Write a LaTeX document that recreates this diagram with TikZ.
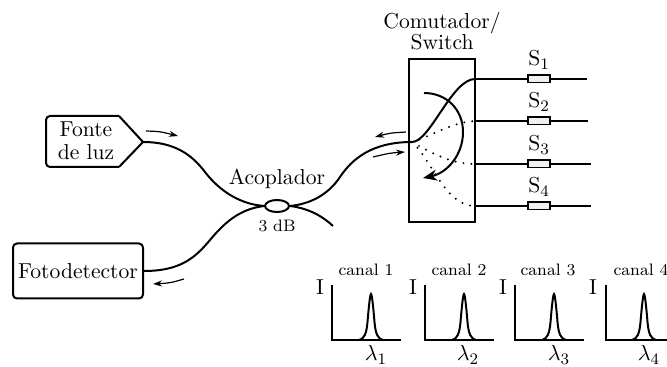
\documentclass[tikz,border=0pt]{standalone}
\usepackage{amsmath}
\usetikzlibrary{arrows.meta,shapes.geometric}
\tikzset{
  fiber/.style={line width=1pt},
  devbox/.style={draw,line width=1pt,rounded corners=2pt},
  txt/.style={font=\fontsize{10.8}{12.8}\selectfont,align=center,inner sep=0pt},
  smalltxt/.style={font=\fontsize{8.3}{10}\selectfont,inner sep=0pt},
  dotfiber/.style={line width=1.1pt,line cap=round,dash pattern=on 0pt off 4pt},
  flow/.style={line width=0.6pt,-{Stealth[length=4.5pt,width=3pt]}},
  filterbox/.style={draw,fill=black!6,line width=0.9pt,minimum width=11pt,minimum height=3.6pt,inner sep=0pt},
  axes/.style={line width=0.9pt},
  peak/.style={line width=1pt}
}

\begin{document}
\begin{tikzpicture}[x=0.5pt,y=-0.5pt]
\useasboundingbox (0,0) rectangle (667,367);

% source and detector
\draw[fiber,rounded corners=2pt] (119,116) -- (46,116) -- (46,167) -- (119,167);
\draw[fiber] (119,116) -- (143,142) -- (119,167);
\coordinate (fonte) at (143,142);
\node[txt] (fontetext) at (86,141) {Fonte\\[-1.5pt]de luz};
\node[devbox,minimum width=65pt,minimum height=27.5pt,inner sep=0pt,txt] (foto) at (78,271) {Fotodetector};

% coupler
\node[draw,ellipse,line width=1pt,minimum width=12pt,minimum height=6pt,inner sep=0pt] (coupler) at (277,206) {};
\node[txt] (acoplador) at (277,179) {Acoplador};
\node[smalltxt] (db) at (277,226) {3 dB};
\coordinate (tail) at (333,226);

% switch
\node[draw,line width=1pt,minimum width=33pt,minimum height=81.5pt,inner sep=0pt] (switch) at (442,140.5) {};
\node[txt] (switchtext) at (442,31) {Comutador/\\[-2pt]Switch};
\coordinate (common) at (412,142);
\coordinate (port1) at (475,79);
\coordinate (port2) at (475,121);
\coordinate (port3) at (475,164);
\coordinate (port4) at (475,206);

\draw[fiber] (fonte) .. controls (175,142) and (192,155) .. (205,172) .. controls (218,189) and (238,204) .. (coupler.west);
\draw[fiber] (foto.east) .. controls (180,271) and (195,258) .. (210,240) .. controls (225,222) and (240,209) .. (coupler.west);
\draw[fiber] (coupler.east) .. controls (310,204) and (328,195) .. (340,177) .. controls (352,159) and (372,142) .. (common);
\draw[fiber] (coupler.east) .. controls (306,208) and (320,214) .. (tail);

\draw[fiber] (common) .. controls (430,142) and (452,79) .. (port1);
\draw[dotfiber] (common) .. controls (432,136) and (452,122) .. (port2);
\draw[dotfiber] (common) .. controls (430,152) and (450,164) .. (port3);
\draw[dotfiber] (common) .. controls (432,160) and (445,206) .. (port4);

\coordinate (swstart) at (424,93);
\coordinate (swmid) at (463,132);
\coordinate (swend) at (423,178);
\draw[line width=1pt,-{Stealth[length=7pt,width=5.5pt]}] (swstart) .. controls (447,93) and (463,110) .. (swmid) .. controls (463,155) and (447,173) .. (swend);

% outputs
\node[filterbox] (s1) at (539,79) {};
\node[filterbox] (s2) at (539,121) {};
\node[filterbox] (s3) at (539,164) {};
\node[filterbox] (s4) at (539,206) {};
\coordinate (end1) at (587,79);
\coordinate (end2) at (588,121);
\coordinate (end3) at (591,164);
\coordinate (end4) at (591,206);
\draw[fiber] (port1) -- (s1.west);
\draw[fiber] (port2) -- (s2.west);
\draw[fiber] (port3) -- (s3.west);
\draw[fiber] (port4) -- (s4.west);
\draw[fiber] (s1.east) -- (end1);
\draw[fiber] (s2.east) -- (end2);
\draw[fiber] (s3.east) -- (end3);
\draw[fiber] (s4.east) -- (end4);
\node[txt] (s1text) at (539,60) {S$_1$};
\node[txt] (s2text) at (539,102) {S$_2$};
\node[txt] (s3text) at (539,145) {S$_3$};
\node[txt] (s4text) at (539,187) {S$_4$};

% direction of travel
\coordinate (a1) at (146,131);
\coordinate (b1) at (178,136);
\coordinate (a2) at (184,279);
\coordinate (b2) at (153,284);
\coordinate (a3) at (406,132);
\coordinate (b3) at (375,137);
\coordinate (a4) at (373,157);
\coordinate (b4) at (405,152);
\draw[flow] (a1) .. controls (160,131.5) .. (b1);
\draw[flow] (a2) .. controls (170,283) .. (b2);
\draw[flow] (a3) .. controls (390,133) .. (b3);
\draw[flow] (a4) .. controls (390,153) .. (b4);

% spectra
\draw[axes] (332,285) -- (332,340) -- (401,340);
\draw[peak] (359,340) .. controls (364,339) and (366.5,334) .. (367.5,322) .. controls (368.5,310) and (370,294) .. (371,294) .. controls (372,294) and (373.5,310) .. (374.5,322) .. controls (375.5,334) and (378,339) .. (383,340);
\node[smalltxt] (canal1) at (366,270) {canal 1};
\node[txt] (i1) at (320,287) {I};
\node[txt] (l1) at (376,355) {$\lambda_1$};

\draw[axes] (425,285) -- (425,340) -- (494,340);
\draw[peak] (452,340) .. controls (457,339) and (459.5,334) .. (460.5,322) .. controls (461.5,310) and (463,294) .. (464,294) .. controls (465,294) and (466.5,310) .. (467.5,322) .. controls (468.5,334) and (471,339) .. (476,340);
\node[smalltxt] (canal2) at (459,270) {canal 2};
\node[txt] (i2) at (413,287) {I};
\node[txt] (l2) at (468,355) {$\lambda_2$};

\draw[axes] (515,285) -- (515,340) -- (584,340);
\draw[peak] (542,340) .. controls (547,339) and (549.5,334) .. (550.5,322) .. controls (551.5,310) and (553,294) .. (554,294) .. controls (555,294) and (556.5,310) .. (557.5,322) .. controls (558.5,334) and (561,339) .. (566,340);
\node[smalltxt] (canal3) at (548,270) {canal 3};
\node[txt] (i3) at (503,287) {I};
\node[txt] (l3) at (559,355) {$\lambda_3$};

\draw[axes] (606,285) -- (606,340) -- (667,340);
\draw[peak] (632,340) .. controls (637,339) and (639.5,334) .. (640.5,322) .. controls (641.5,310) and (643,294) .. (644,294) .. controls (645,294) and (646.5,310) .. (647.5,322) .. controls (648.5,334) and (651,339) .. (656,340);
\node[smalltxt] (canal4) at (641,270) {canal 4};
\node[txt] (i4) at (593,287) {I};
\node[txt] (l4) at (649,355) {$\lambda_4$};
\end{tikzpicture}
\end{document}
